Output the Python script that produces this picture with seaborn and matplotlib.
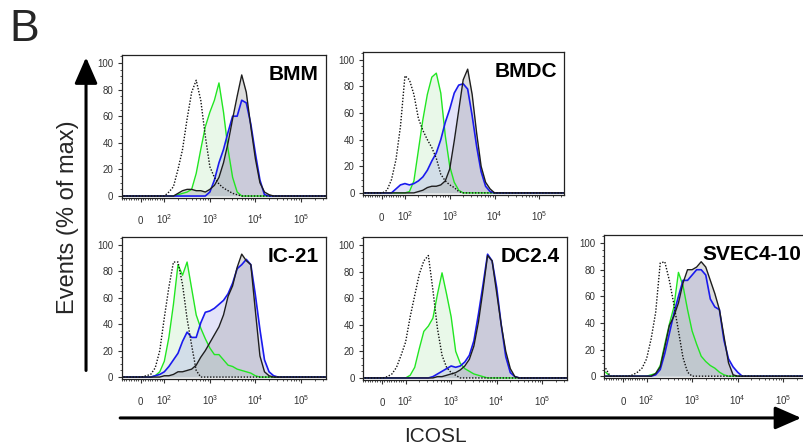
import numpy as np
import matplotlib
matplotlib.use('Agg')
import matplotlib.pyplot as plt
import seaborn as sns
from matplotlib.patches import FancyArrowPatch
from matplotlib.ticker import MultipleLocator

sns.set_style('ticks')
plt.rcParams['font.family'] = ['Liberation Sans', 'DejaVu Sans']
plt.rcParams['mathtext.fontset'] = 'custom'
plt.rcParams['mathtext.rm'] = 'Liberation Sans'

# x positions in display decades (biexponential axis: "0" sits at ~1.48, 10^2 at 2 ...)
GRID = [1.1, 1.2, 1.3, 1.4, 1.5, 1.6, 1.7, 1.8, 1.9, 2.0,
        2.1, 2.2, 2.3, 2.4, 2.5, 2.6, 2.7, 2.8, 2.9, 3.0,
        3.1, 3.2, 3.3, 3.4, 3.5, 3.6, 3.7, 3.8, 3.9, 4.0,
        4.1, 4.2, 4.3, 4.4, 4.5, 4.6, 5.6]
ZERO_POS = 1.48

# % of max
BMM_ISO = [0, 0, 0, 0, 0, 0, 0, 0, 0, 0,
           3, 7, 20, 35, 58, 78, 87, 72, 45, 22,
           14, 9, 6, 4, 2, 1, 0, 0, 0, 0,
           0, 0, 0, 0, 0, 0, 0]
BMM_GREEN = [0, 0, 0, 0, 0, 0, 0, 0, 0, 0,
             0, 0, 1, 2, 3, 5, 17, 35, 52, 63,
             72, 85, 63, 35, 14, 3, 0, 0, 0, 0,
             0, 0, 0, 0, 0, 0, 0]
BMM_BLUE = [0, 0, 0, 0, 0, 0, 0, 0, 0, 0,
            0, 0, 0, 0, 0, 0, 0, 0, 0, 3,
            12, 25, 35, 48, 60, 60, 72, 70, 54, 32,
            12, 1, 0, 0, 0, 0, 0]
BMM_SOLID = [0, 0, 0, 0, 0, 0, 0, 0, 0, 0,
             0, 0, 2, 4, 5, 5, 4, 4, 3, 5,
             8, 14, 25, 40, 58, 75, 91, 78, 52, 28,
             10, 3, 1, 0, 0, 0, 0]

BMDC_ISO = [0, 0, 0, 0, 0, 2, 10, 25, 50, 88,
            85, 74, 56, 47, 40, 34, 26, 14, 9, 6,
            4, 1, 0, 0, 0, 0, 0, 0, 0, 0,
            0, 0, 0, 0, 0, 0, 0]
BMDC_GREEN = [0, 0, 0, 0, 0, 0, 0, 0, 0, 0,
              1, 9, 32, 55, 74, 87, 90, 75, 43, 20,
              8, 2, 0, 0, 0, 0, 0, 0, 0, 0,
              0, 0, 0, 0, 0, 0, 0]
BMDC_BLUE = [0, 0, 0, 0, 0, 0, 0, 3, 6, 7,
             6, 7, 9, 12, 17, 24, 30, 40, 53, 63,
             75, 81, 82, 78, 58, 35, 16, 5, 1, 0,
             0, 0, 0, 0, 0, 0, 0]
BMDC_SOLID = [0, 0, 0, 0, 0, 0, 0, 0, 0, 0,
              0, 0, 1, 2, 4, 5, 5, 6, 9, 18,
              39, 62, 85, 93, 74, 45, 20, 8, 3, 0,
              0, 0, 0, 0, 0, 0, 0]

IC21_ISO = [0, 0, 0, 0, 0, 1, 2, 7, 20, 45,
            68, 87, 87, 70, 44, 24, 5, 0, 0, 0,
            0, 0, 0, 0, 0, 0, 0, 0, 0, 0,
            0, 0, 0, 0, 0, 0, 0]
IC21_GREEN = [0, 0, 0, 0, 0, 0, 0, 1, 4, 12,
              30, 55, 85, 77, 87, 67, 47, 37, 29, 22,
              17, 17, 13, 9, 8, 6, 5, 4, 3, 1,
              0, 0, 0, 0, 0, 0, 0]
IC21_BLUE = [0, 0, 0, 0, 0, 0, 0, 1, 2, 4,
             8, 13, 18, 27, 34, 30, 30, 41, 49, 50,
             52, 55, 58, 63, 71, 82, 85, 89, 85, 62,
             36, 13, 4, 1, 0, 0, 0]
IC21_SOLID = [0, 0, 0, 0, 0, 0, 0, 0, 0, 1,
              1, 2, 4, 4, 5, 6, 9, 15, 20, 26,
              32, 38, 47, 61, 69, 83, 93, 88, 85, 50,
              16, 4, 1, 0, 0, 0, 0]

DC24_ISO = [0, 0, 0, 0, 0, 1, 3, 8, 17, 27,
            46, 62, 78, 88, 92, 66, 37, 17, 8, 4,
            2, 0, 0, 0, 0, 0, 0, 0, 0, 0,
            0, 0, 0, 0, 0, 0, 0]
DC24_GREEN = [0, 0, 0, 0, 0, 0, 0, 0, 0, 0,
              2, 8, 22, 35, 39, 45, 63, 79, 63, 46,
              20, 11, 7, 5, 3, 2, 1, 0, 0, 0,
              0, 0, 0, 0, 0, 0, 0]
DC24_BLUE = [0, 0, 0, 0, 0, 0, 0, 0, 0, 0,
             0, 0, 0, 0, 0, 1, 3, 5, 7, 9,
             8, 9, 12, 17, 28, 48, 70, 93, 88, 68,
             40, 16, 4, 1, 0, 0, 0]
DC24_SOLID = [0, 0, 0, 0, 0, 0, 0, 0, 0, 0,
              0, 0, 0, 0, 0, 0, 1, 1, 2, 3,
              4, 6, 9, 14, 24, 42, 66, 92, 88, 64,
              40, 20, 7, 1, 0, 0, 0]

SVEC_ISO = [6, 0, 0, 0, 0, 0, 1, 3, 6, 13,
            28, 48, 85, 86, 72, 54, 34, 14, 3, 0,
            0, 0, 0, 0, 0, 0, 0, 0, 0, 0,
            0, 0, 0, 0, 0, 0, 0]
SVEC_GREEN = [3, 0, 0, 0, 0, 0, 0, 0, 0, 0,
              1, 2, 8, 24, 39, 52, 78, 68, 50, 34,
              24, 15, 11, 8, 6, 3, 1, 0, 0, 0,
              0, 0, 0, 0, 0, 0, 0]
SVEC_BLUE = [0, 0, 0, 0, 0, 0, 0, 0, 0, 0,
             0, 1, 5, 17, 32, 47, 60, 72, 72, 76,
             80, 80, 76, 58, 52, 50, 27, 13, 7, 3,
             0, 0, 0, 0, 0, 0, 0]
SVEC_SOLID = [0, 0, 0, 0, 0, 0, 0, 0, 0, 0,
              0, 2, 7, 22, 38, 45, 55, 70, 80, 80,
              82, 86, 82, 72, 62, 50, 30, 10, 1, 0,
              0, 0, 0, 0, 0, 0, 0]

X_LABELS = ['0', r'$10^2$', r'$10^3$', r'$10^4$', r'$10^5$']

panels = [
    ('BMM', BMM_ISO, BMM_GREEN, BMM_BLUE, BMM_SOLID, [0.1514, 0.557, 0.254, 0.320]),
    ('BMDC', BMDC_ISO, BMDC_GREEN, BMDC_BLUE, BMDC_SOLID, [0.4515, 0.564, 0.250, 0.320]),
    ('IC-21', IC21_ISO, IC21_GREEN, IC21_BLUE, IC21_SOLID, [0.1514, 0.152, 0.254, 0.318]),
    ('DC2.4', DC24_ISO, DC24_GREEN, DC24_BLUE, DC24_SOLID, [0.4515, 0.150, 0.254, 0.320]),
    ('SVEC4-10', SVEC_ISO, SVEC_GREEN, SVEC_BLUE, SVEC_SOLID, [0.7512, 0.154, 0.254, 0.320]),
]

# minor ticks: linear part around zero, log part above 10^2
lin_minor = [ZERO_POS + (2 - ZERO_POS) * v / 100 for v in range(-80, 100, 10) if v != 0]
log_minor = [np.log10(m * 10 ** k) for k in range(2, 6) for m in range(2, 10)]
log_minor = [p for p in log_minor if p < 5.55]

fig = plt.figure(figsize=(8.04, 4.47), dpi=100)

for name, iso, green, blue, solid, rect in panels:
    ax = fig.add_axes(rect)
    ax.fill_between(GRID, green, color='#9be39b', alpha=0.22, lw=0)
    ax.fill_between(GRID, blue, color='#8c8ce8', alpha=0.24, lw=0)
    ax.fill_between(GRID, solid, color='#9a9a9a', alpha=0.32, lw=0)
    sns.lineplot(x=GRID, y=green, ax=ax, color='#22e622', lw=1.0)
    sns.lineplot(x=GRID, y=blue, ax=ax, color='#1a1aee', lw=1.2)
    sns.lineplot(x=GRID, y=solid, ax=ax, color='#1e1e1e', lw=1.0)
    sns.lineplot(x=GRID, y=iso, ax=ax, color='#111111', lw=1.0, linestyle=(0, (1, 1.2)))

    ax.set_xlim(1.07, 5.55)
    ax.set_ylim(-1.5, 106)
    ax.set_xticks([ZERO_POS, 2, 3, 4, 5])
    ax.set_xticklabels(X_LABELS)
    ax.set_xticks(lin_minor + log_minor, minor=True)
    ax.set_yticks(range(0, 101, 20))
    ax.yaxis.set_minor_locator(MultipleLocator(5))
    ax.tick_params(axis='both', which='major', direction='out', length=3, width=0.8,
                   labelsize=7, colors='#333333')
    ax.tick_params(axis='both', which='minor', direction='out', length=1.6, width=0.6,
                   colors='#333333')
    ax.tick_params(axis='x', which='major', pad=16)
    ax.tick_params(axis='y', which='major', pad=3)
    for lbl in ax.get_xticklabels():
        lbl.set_verticalalignment('baseline')
    ax.set_xlabel('')
    ax.set_ylabel('')
    for sp in ax.spines.values():
        sp.set_visible(True)
        sp.set_color('#222222')
        sp.set_linewidth(0.9)
    ax.text(0.965, 0.93, name, transform=ax.transAxes, ha='right', va='top',
            fontsize=15, fontweight='bold', color='black')

fig.text(0.012, 0.98, 'B', fontsize=32, ha='left', va='top')
fig.text(0.085, 0.515, 'Events (% of max)', rotation=90, fontsize=17, ha='center', va='center')
fig.text(0.541, 0.024, 'ICOSL', fontsize=15, ha='center', va='center')

fig.add_artist(FancyArrowPatch((0.107, 0.165), (0.107, 0.878), transform=fig.transFigure,
                               arrowstyle='-|>,head_length=1.6,head_width=0.7',
                               mutation_scale=10, lw=2.2, color='black'))
fig.add_artist(FancyArrowPatch((0.146, 0.065), (1.0, 0.065), transform=fig.transFigure,
                               arrowstyle='-|>,head_length=1.6,head_width=0.7',
                               mutation_scale=10, lw=2.2, color='black'))

fig.savefig('out.png', dpi=100)
